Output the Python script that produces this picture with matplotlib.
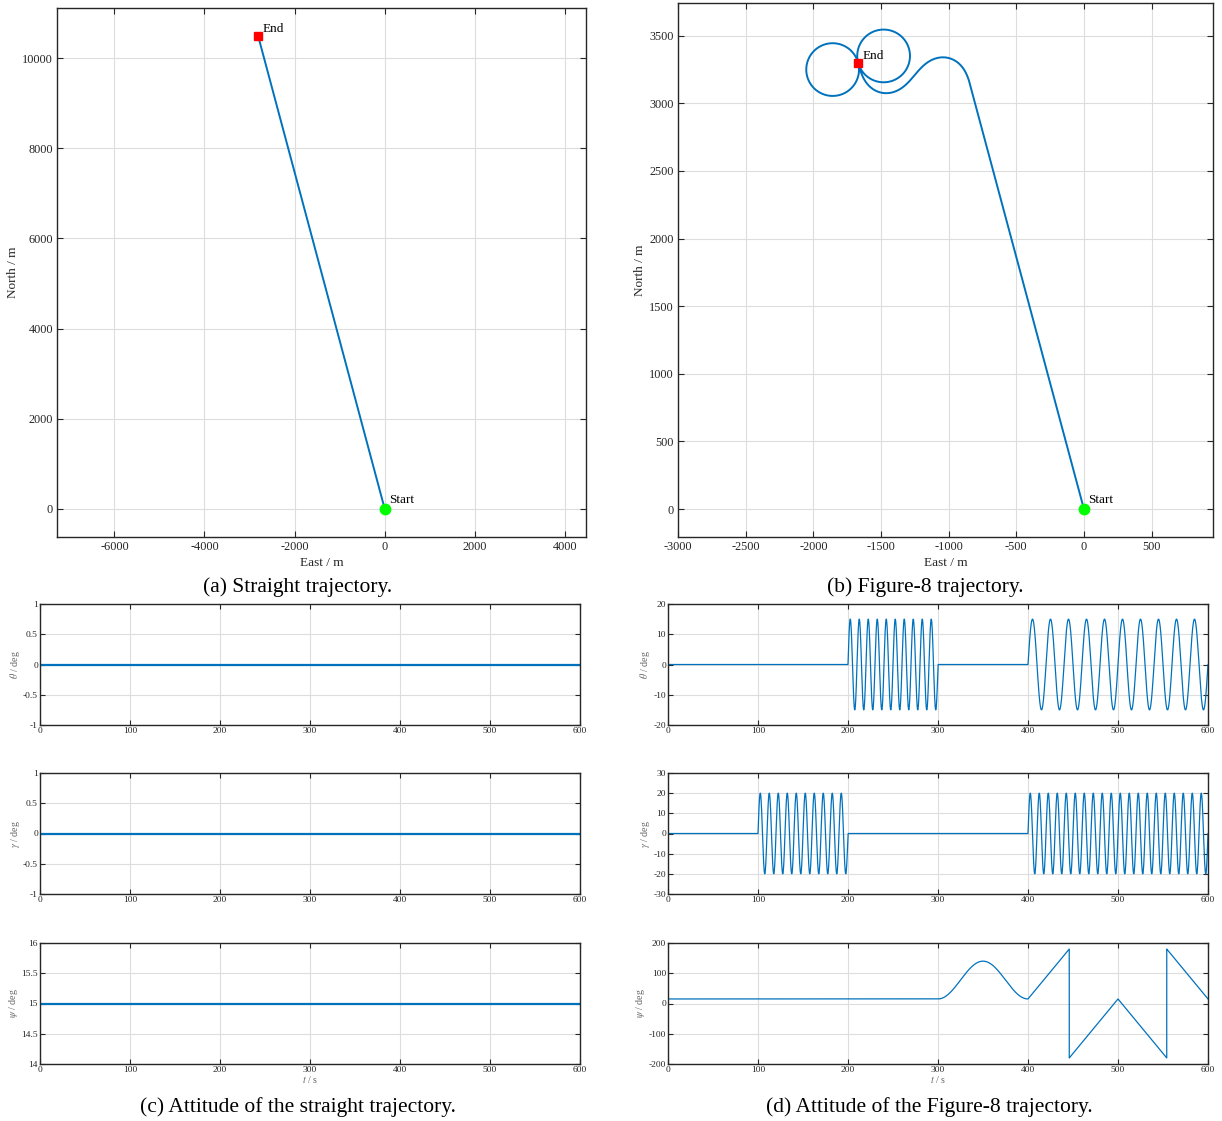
import numpy as np
import matplotlib
matplotlib.use("Agg")
from matplotlib import pyplot

pyplot.rcParams['font.family'] = ['Liberation Serif', 'DejaVu Serif']
pyplot.rcParams['mathtext.fontset'] = 'stix'
pyplot.rcParams['axes.unicode_minus'] = False

# ---------------- data ----------------
# straight trajectory, East / North in m
straight_east = [0, -2810]
straight_north = [0, 10490]

# attitude of the straight trajectory, deg
straight_t = [0, 600]
straight_theta = [0, 0]
straight_gamma = [0, 0]
straight_psi = [15, 15]

# figure-8 pitch / roll: sine bursts (start s, end s, amplitude deg, period s)
fig8_theta_bursts = [(200, 300, 15, 10), (400, 600, 15, 20)]
fig8_gamma_bursts = [(100, 200, 20, 10), (400, 600, 20, 10)]

# figure-8 heading, unwrapped knots (deg); plotted wrapped to +-180
fig8_psi_t = [0, 300, 400, 500, 600]
fig8_psi_v = [15, 15, 15, 375, 15]
# smooth heading bump between 300 s and 400 s (start, end, peak deg)
fig8_psi_bump = (300, 400, 140)

# ground speed of the figure-8 run (start s, end s, m/s)
fig8_speed = [(0, 300, 10.75), (300, 400, 11.8), (400, 600, 12.25)]

t_end = 600
ATT_COLOR = '#0072BD'
AX_COLOR = '#262626'
GRID_COLOR = '#dddddd'

# ---------------- build the figure-8 series ----------------
t = np.linspace(0, t_end, 24001)
dt = t[1] - t[0]


def bursts(segs):
    out = np.zeros_like(t)
    for t0, t1, amp, per in segs:
        m = (t >= t0) & (t <= t1)
        out[m] = amp * np.sin(2 * np.pi * (t[m] - t0) / per)
    return out


fig8_theta = bursts(fig8_theta_bursts)
fig8_gamma = bursts(fig8_gamma_bursts)

psi_unwrapped = np.interp(t, fig8_psi_t, fig8_psi_v)
b0, b1, bpeak = fig8_psi_bump
m = (t >= b0) & (t <= b1)
base = np.interp(b0, fig8_psi_t, fig8_psi_v)
psi_unwrapped[m] = base + (bpeak - base) * (1 - np.cos(2 * np.pi * (t[m] - b0) / (b1 - b0))) / 2
fig8_psi = (psi_unwrapped + 180) % 360 - 180

speed = np.zeros_like(t)
for t0, t1, v in fig8_speed:
    speed[(t >= t0) & (t <= t1)] = v
rad = np.deg2rad(psi_unwrapped)
fig8_east = np.concatenate([[0], np.cumsum(-speed * np.sin(rad) * dt)[:-1]])
fig8_north = np.concatenate([[0], np.cumsum(speed * np.cos(rad) * dt)[:-1]])

# ---------------- layout ----------------
W, H = 1222, 1121
figure = pyplot.figure(figsize=(W / 100, H / 100), dpi=100)


def add_ax(left, top, right, bottom):
    return figure.add_axes([left / W, 1 - bottom / H, (right - left) / W, (bottom - top) / H])


def matlab_style(ax, fs, tlen):
    ax.tick_params(direction='in', top=True, right=True, labelsize=fs,
                   colors=AX_COLOR, length=tlen, width=0.8, pad=3)
    ax.grid(True, color=GRID_COLOR, linewidth=0.8)
    ax.set_axisbelow(True)
    for s in ax.spines.values():
        s.set_color(AX_COLOR)
        s.set_linewidth(1.0)


def trajectory(ax, east, north):
    ax.plot(east, north, color=ATT_COLOR, lw=1.4, zorder=3)
    ax.plot(east[0], north[0], 'o', color='#00ff00', ms=7.5, zorder=4)
    ax.plot(east[-1], north[-1], 's', color='#ff0000', ms=6, zorder=4)
    ax.annotate('Start', (east[0], north[0]), xytext=(3, 4), textcoords='offset points',
                fontsize=9.5, color='black')
    ax.annotate('End', (east[-1], north[-1]), xytext=(3, 3), textcoords='offset points',
                fontsize=9.5, color='black')
    ax.set_xlabel('East / m', fontsize=9.5, color=AX_COLOR, labelpad=3)
    ax.set_ylabel('North / m', fontsize=9.5, color=AX_COLOR, labelpad=2)


# (a) straight trajectory
ax_a = add_ax(57, 8, 586, 537)
trajectory(ax_a, straight_east, straight_north)
ax_a.set_xlim(-7273, 4466)
ax_a.set_ylim(-621, 11109)
ax_a.set_xticks(np.arange(-6000, 4001, 2000))
ax_a.set_yticks(np.arange(0, 10001, 2000))
matlab_style(ax_a, 8.8, 4)

# (b) figure-8 trajectory
ax_b = add_ax(678, 3, 1213, 537)
trajectory(ax_b, fig8_east, fig8_north)
ax_b.set_xlim(-3000, 954)
ax_b.set_ylim(-207, 3742)
ax_b.set_xticks(np.arange(-3000, 501, 500))
ax_b.set_yticks(np.arange(0, 3501, 500))
matlab_style(ax_b, 8.8, 4)

# attitude panels
rows = [(604, 725), (773, 894), (943, 1064)]
labels = [r'$\theta$ / deg', r'$\gamma$ / deg', r'$\psi$ / deg']

left_series = [straight_theta, straight_gamma, straight_psi]
left_lims = [(-1, 1), (-1, 1), (14, 16)]
left_ticks = [np.arange(-1, 1.01, 0.5), np.arange(-1, 1.01, 0.5), np.arange(14, 16.01, 0.5)]

right_series = [fig8_theta, fig8_gamma, fig8_psi]
right_lims = [(-20, 20), (-30, 30), (-200, 200)]
right_ticks = [np.arange(-20, 21, 10), np.arange(-30, 31, 10), np.arange(-200, 201, 100)]

for i, (top, bottom) in enumerate(rows):
    axl = add_ax(40, top, 580, bottom)
    axl.plot(straight_t, left_series[i], color=ATT_COLOR, lw=1.6)
    axl.set_ylim(*left_lims[i])
    axl.set_yticks(left_ticks[i])
    axl.set_yticklabels(['%g' % v for v in left_ticks[i]])

    axr = add_ax(668, top, 1208, bottom)
    axr.plot(t, right_series[i], color=ATT_COLOR, lw=0.9)
    axr.set_ylim(*right_lims[i])
    axr.set_yticks(right_ticks[i])

    for ax in (axl, axr):
        ax.set_xlim(0, t_end)
        ax.set_xticks(np.arange(0, t_end + 1, 100))
        matlab_style(ax, 6.8, 3.5)
        ax.tick_params(pad=1.5)
        ax.set_ylabel(labels[i], fontsize=7.2, color='#666666', labelpad=1)
        if i == 2:
            ax.set_xlabel(r'$t$ / s', fontsize=7.2, color='#666666', labelpad=0)

# captions
cap_fs = 15.5
figure.text(298 / W, 1 - 587 / H, '(a) Straight trajectory.', ha='center', va='center', fontsize=cap_fs)
figure.text(925 / W, 1 - 587 / H, '(b) Figure-8 trajectory.', ha='center', va='center', fontsize=cap_fs)
figure.text(298 / W, 1 - 1107 / H, '(c) Attitude of the straight trajectory.', ha='center', va='center', fontsize=cap_fs)
figure.text(929 / W, 1 - 1107 / H, '(d) Attitude of the Figure-8 trajectory.', ha='center', va='center', fontsize=cap_fs)

figure.savefig('out.png', dpi=100)
